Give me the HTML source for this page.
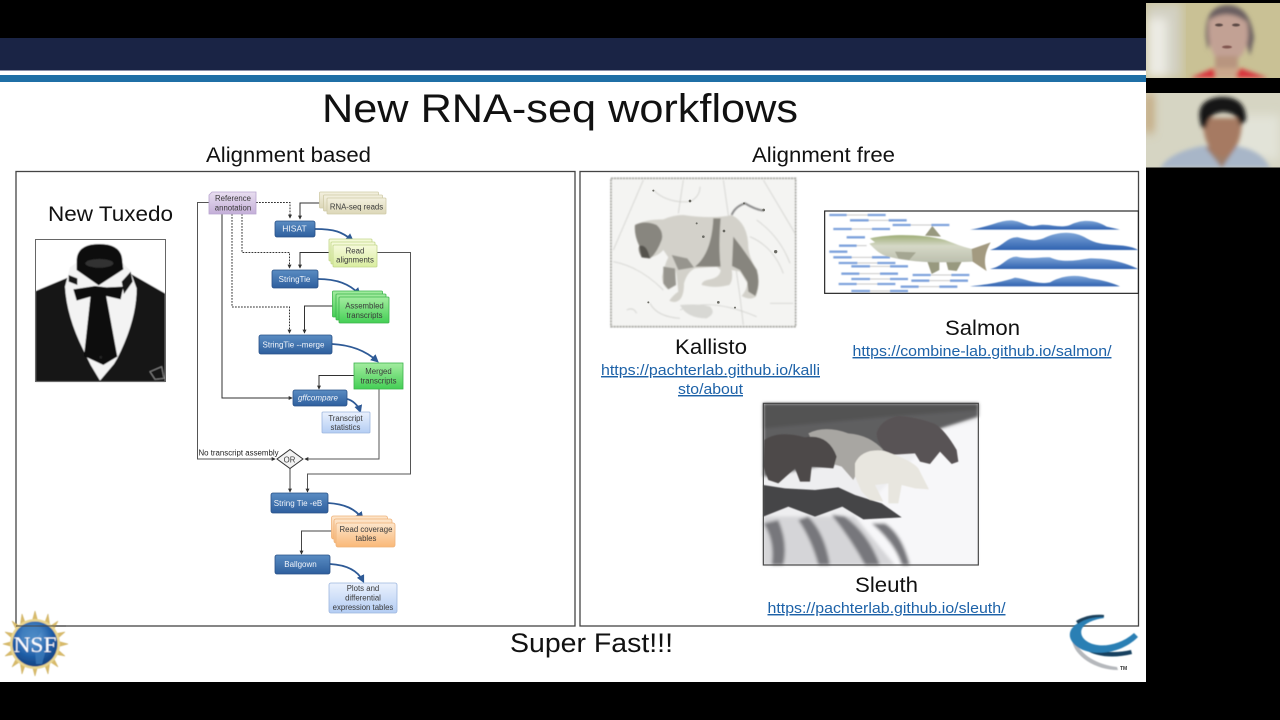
<!DOCTYPE html>
<html><head><meta charset="utf-8"><style>
html,body{margin:0;padding:0;background:#000;width:1280px;height:720px;overflow:hidden}
svg{display:block}
text{font-family:"Liberation Sans",sans-serif}
</style></head><body>
<svg width="1280" height="720" viewBox="0 0 1280 720" xmlns="http://www.w3.org/2000/svg">
<defs>
<filter id="b1"><feGaussianBlur stdDeviation="0.45"/></filter>
<filter id="b2"><feGaussianBlur stdDeviation="2"/></filter>
<filter id="b15"><feGaussianBlur stdDeviation="1.200"/></filter>
<filter id="b3"><feGaussianBlur stdDeviation="5"/></filter>
<filter id="b4"><feGaussianBlur stdDeviation="9"/></filter>
<filter id="b0"><feGaussianBlur stdDeviation="0.25"/></filter>
<linearGradient id="gb" x1="0" y1="0" x2="0" y2="1"><stop offset="0" stop-color="#5a8cc2"/><stop offset="1" stop-color="#2e5f9e"/></linearGradient>
<linearGradient id="gp" x1="0" y1="0" x2="0" y2="1"><stop offset="0" stop-color="#e8def0"/><stop offset="1" stop-color="#c4afd8"/></linearGradient>
<linearGradient id="gt" x1="0" y1="0" x2="0" y2="1"><stop offset="0" stop-color="#f3f0df"/><stop offset="1" stop-color="#dcd7b8"/></linearGradient>
<linearGradient id="gy" x1="0" y1="0" x2="0" y2="1"><stop offset="0" stop-color="#f6fadb"/><stop offset="1" stop-color="#d9eda0"/></linearGradient>
<linearGradient id="gg" x1="0" y1="0" x2="0" y2="1"><stop offset="0" stop-color="#a4ecA0"/><stop offset="1" stop-color="#44cf55"/></linearGradient>
<linearGradient id="go" x1="0" y1="0" x2="0" y2="1"><stop offset="0" stop-color="#fde6cc"/><stop offset="1" stop-color="#f9b878"/></linearGradient>
<linearGradient id="gl" x1="0" y1="0" x2="0" y2="1"><stop offset="0" stop-color="#eaf1fd"/><stop offset="1" stop-color="#b4cdf3"/></linearGradient>
<linearGradient id="gw" x1="0" y1="0" x2="0" y2="1"><stop offset="0" stop-color="#7fa6d8"/><stop offset="1" stop-color="#2f62b0"/></linearGradient>
<linearGradient id="gf" x1="0" y1="0" x2="0" y2="1"><stop offset="0" stop-color="#9fae78"/><stop offset=".4" stop-color="#d5d8c6"/><stop offset="1" stop-color="#bcbfae"/></linearGradient>
<radialGradient id="gn" cx=".45" cy=".35" r=".7"><stop offset="0" stop-color="#6fa8dc"/><stop offset=".6" stop-color="#1f5fa8"/><stop offset="1" stop-color="#123c78"/></radialGradient>
<marker id="ah" viewBox="0 0 6 6" refX="5" refY="3" markerWidth="4" markerHeight="4" orient="auto"><path d="M0 0L6 3L0 6z" fill="#333"/></marker>
<marker id="bh" viewBox="0 0 10 10" refX="7" refY="5" markerWidth="4.5" markerHeight="4.5" orient="auto"><path d="M0 0L10 5L0 10z" fill="#2e5a96"/></marker>
</defs>

<!-- slide -->
<rect x="0" y="38" width="1146" height="644" fill="#fff"/>
<rect x="0" y="38" width="1146" height="32" fill="#1a2445"/>
<rect x="0" y="70" width="1146" height="1" fill="#8a8fa8"/>
<rect x="0" y="75" width="1146" height="7" fill="#1f6fa6"/>

<text x="560" y="122" font-size="40" text-anchor="middle" fill="#111" textLength="476" lengthAdjust="spacingAndGlyphs">New RNA-seq workflows</text>
<text x="288.500" y="162" font-size="21" text-anchor="middle" fill="#111" textLength="165" lengthAdjust="spacingAndGlyphs">Alignment based</text>
<text x="823.500" y="162" font-size="21" text-anchor="middle" fill="#111" textLength="143" lengthAdjust="spacingAndGlyphs">Alignment free</text>

<rect x="16" y="171.500" width="559" height="454.500" fill="#fff" stroke="#444" stroke-width="1.300"/>
<rect x="580" y="171.500" width="558.500" height="454.500" fill="#fff" stroke="#444" stroke-width="1.300"/>

<text x="110.500" y="221" font-size="21" text-anchor="middle" fill="#111" textLength="125" lengthAdjust="spacingAndGlyphs">New Tuxedo</text>

<!-- tuxedo -->
<g transform="translate(20 230) scale(.33333)" filter="url(#b15)">
<rect x="47" y="28" width="388" height="427" fill="#fff"/>
<path d="M47 183L150 140L330 130L435 190L435 455L47 455z" fill="#131313"/>
<path d="M150 112L178 92L300 92L330 120L350 175Q350 270 292 385L282 402L240 452L212 405L190 360Q140 260 135 170z" fill="#f3f3f3"/>
<path d="M170 90Q172 42 238 42Q305 42 307 92L310 118L236 166L170 120z" fill="#101010"/>
<ellipse cx="238" cy="100" rx="42" ry="13" fill="#333"/>
<path d="M146 135L172 145L172 165L146 155zM305 155L332 125L338 155L312 192z" fill="#181818"/>
<path d="M160 178L225 168L260 172L310 170L302 208L250 196L225 196L170 212z" fill="#0c0c0c"/>
<path d="M212 195L258 195L292 380L250 405L192 378z" fill="#0d0d0d"/>
<rect x="238" y="378" width="8" height="8" fill="#222"/>
<path d="M390 425L425 410L432 445L405 448z" fill="none" stroke="#888" stroke-width="3"/>
</g>
<rect x="35.500" y="239.500" width="130" height="142" fill="none" stroke="#666" stroke-width="1"/>

<!-- connectors -->
<g filter="url(#b0)">
<g fill="none" stroke="#333" stroke-width="1">
<path d="M256 202.500H290V218" stroke-dasharray="1.800 1.200" marker-end="url(#ah)"/>
<path d="M242 214V252.500H289.500V268" stroke-dasharray="1.800 1.200" marker-end="url(#ah)"/>
<path d="M232 214V307H289.500V333" stroke-dasharray="1.800 1.200" marker-end="url(#ah)"/>
<path d="M327 203H300V219" marker-end="url(#ah)"/>
<path d="M333 252.500H300V268" marker-end="url(#ah)"/>
<path d="M339 306H304.500V333" marker-end="url(#ah)"/>
<path d="M354 375.500H319V389" marker-end="url(#ah)"/>
<path d="M222 214V398H292" marker-end="url(#ah)"/>
<path d="M209 202.500H197.500V459H275" stroke="#555" marker-end="url(#ah)"/>
<path d="M379 389V459H305" stroke="#555" marker-end="url(#ah)"/>
<path d="M377 252.500H410.500V474H307.500V492" stroke="#555" marker-end="url(#ah)"/>
<path d="M290 468V492" stroke="#444" marker-end="url(#ah)"/>
<path d="M336 531H301.500V554" stroke="#444" marker-end="url(#ah)"/>
</g>
<g fill="none" stroke="#2e5a96" stroke-width="1.800">
<path d="M315 229C335 229 342 232 352 240" marker-end="url(#bh)"/>
<path d="M318 279C337 279 350 284 359 294" marker-end="url(#bh)"/>
<path d="M332 344C352 345 366 351 377 361" marker-end="url(#bh)"/>
<path d="M347 399C352 400 358 405 360 411" marker-end="url(#bh)"/>
<path d="M328 503C345 504 355 509 362 518" marker-end="url(#bh)"/>
<path d="M330 564C347 565 358 571 363 581" marker-end="url(#bh)"/>
</g>

<!-- nodes -->
<g stroke-width=".8">
<path d="M212 192H256V214H209V195z" fill="url(#gp)" stroke="#b9a5cf"/>
<rect x="319.500" y="192" width="59" height="16" rx="1" fill="url(#gt)" stroke="#d0cba8"/>
<rect x="323.500" y="195" width="59" height="16" rx="1" fill="url(#gt)" stroke="#d0cba8"/>
<rect x="327" y="198" width="59" height="16" rx="1" fill="url(#gt)" stroke="#d0cba8"/>
<rect x="275" y="221" width="40" height="16" rx="2" fill="url(#gb)" stroke="#2a5288"/>
<rect x="329" y="239" width="43" height="22" rx="1" fill="url(#gy)" stroke="#c2d68a"/>
<rect x="331" y="242" width="44" height="22" rx="1" fill="url(#gy)" stroke="#c2d68a"/>
<rect x="333" y="245" width="44" height="22" rx="1" fill="url(#gy)" stroke="#c2d68a"/>
<rect x="272" y="270" width="46" height="18" rx="2" fill="url(#gb)" stroke="#2a5288"/>
<rect x="332.500" y="291" width="50" height="26" rx="1" fill="url(#gg)" stroke="#3cb44c"/>
<rect x="336" y="294" width="50" height="26" rx="1" fill="url(#gg)" stroke="#3cb44c"/>
<rect x="339" y="297" width="50" height="26" rx="1" fill="url(#gg)" stroke="#3cb44c"/>
<rect x="259" y="335" width="73" height="19" rx="2" fill="url(#gb)" stroke="#2a5288"/>
<rect x="354" y="363" width="49" height="26" fill="url(#gg)" stroke="#3cb44c"/>
<rect x="293" y="390" width="54" height="16" rx="2" fill="url(#gb)" stroke="#2a5288"/>
<rect x="322" y="412" width="48" height="21" rx="1" fill="url(#gl)" stroke="#9db6de"/>
<path d="M290 449.500L303 459L290 468.500L277 459z" fill="#f2f2f2" stroke="#333" stroke-width="1"/>
<rect x="271" y="493" width="57" height="20" rx="2" fill="url(#gb)" stroke="#2a5288"/>
<rect x="331.500" y="516" width="56" height="23" rx="2" fill="url(#go)" stroke="#eeb27a"/>
<rect x="334" y="519" width="58" height="24" rx="2" fill="url(#go)" stroke="#eeb27a"/>
<rect x="336" y="523" width="59" height="24" rx="2" fill="url(#go)" stroke="#eeb27a"/>
<rect x="275" y="555" width="55" height="19" rx="2" fill="url(#gb)" stroke="#2a5288"/>
<rect x="329" y="583" width="68" height="30" rx="2" fill="url(#gl)" stroke="#9db6de"/>
</g>

<!-- node labels -->
<g font-size="7.800" text-anchor="middle" fill="#3a3a3a">
<text x="233" y="201">Reference</text><text x="233" y="210.500">annotation</text>
<text x="356.500" y="209.500">RNA-seq reads</text>
<text x="355" y="253.500">Read</text><text x="355" y="262.500">alignments</text>
<text x="364.500" y="308.500">Assembled</text><text x="364.500" y="318">transcripts</text>
<text x="378.500" y="374">Merged</text><text x="378.500" y="383.500">transcripts</text>
<text x="345.500" y="421">Transcript</text><text x="345.500" y="430">statistics</text>
<text x="366" y="532">Read coverage</text><text x="366" y="541">tables</text>
<text x="363" y="591">Plots and</text><text x="363" y="600.500">differential</text><text x="363" y="610">expression tables</text>
<text x="289.500" y="462.500">OR</text>
<text x="238.500" y="455.500" textLength="80" lengthAdjust="spacingAndGlyphs" fill="#222">No transcript assembly</text>
</g>
<g font-size="8" text-anchor="middle" fill="#f0f4fa">
<text x="294.500" y="231.500" font-size="8.500">HISAT</text>
<text x="294.500" y="282">StringTie</text>
<text x="293.500" y="347.500">StringTie --merge</text>
<text x="318" y="400.500" font-style="italic">gffcompare</text>
<text x="298" y="506">String Tie -eB</text>
<text x="300.500" y="567">Ballgown</text>
</g>
</g>

<!-- Kallisto image -->
<g transform="translate(600 170) scale(.33333)">
<rect x="30" y="23" width="558" height="450" fill="#f4f4f2"/>
<g filter="url(#b2)">
<rect x="33" y="25" width="554" height="445" fill="none" stroke="#8c8c86" stroke-width="4" stroke-dasharray="6 3"/>
<g fill="none" stroke="#c8c8c4" stroke-width="2"><path d="M130 30L40 240M250 30L235 130M370 30L420 380L430 465M490 30L585 190M40 275Q120 290 190 360M150 400Q170 440 240 445M160 60Q200 100 270 95Q300 80 300 50M450 200Q520 230 550 310M470 150Q540 200 570 280M240 420Q330 380 470 440M510 400H580M80 420Q100 410 110 430"/></g>
<path d="M105 165Q135 148 190 148Q220 135 250 135Q340 148 395 135Q445 160 445 235Q450 270 472 300Q482 340 468 380Q450 392 425 378Q440 360 442 340Q430 320 420 305L395 300Q400 330 388 345Q345 356 305 345Q305 332 330 328Q360 322 362 300L350 290L285 295Q262 305 252 340Q252 375 240 388Q225 402 208 392Q220 375 235 365L228 300Q222 350 205 358Q188 350 186 320Q195 280 205 262L190 240Q165 268 125 262Q112 240 118 228Q102 195 105 165z" fill="#d3d1ca"/>
<path d="M105 165Q135 150 170 165Q192 185 185 210Q170 250 150 265L125 262Q112 240 118 228Q102 195 105 165z" fill="#88867f"/>
<path d="M118 228Q140 220 150 265L125 262z" fill="#55534e"/>
<path d="M285 290Q335 250 340 145L362 145Q355 230 362 290zM400 200Q440 250 470 300Q482 340 466 378L445 365L442 335L420 300L396 288z" fill="#87857e"/>
<path d="M190 290L225 295L228 345L205 358L190 340zM215 255L262 265L282 292L235 300z" fill="#97958e"/>
<path d="M395 135Q405 110 435 100Q465 118 490 122" fill="none" stroke="#888" stroke-width="6"/>
<path d="M240 405Q300 400 330 410Q350 430 320 445Q260 445 240 405z" fill="#d8d8d4"/>
</g>
<g fill="#6a6a64" filter="url(#b1)"><circle cx="270" cy="93" r="4"/><circle cx="310" cy="200" r="4"/><circle cx="372" cy="183" r="4"/><circle cx="527" cy="245" r="5"/><circle cx="290" cy="160" r="3"/><circle cx="432" cy="100" r="3"/><circle cx="491" cy="120" r="4"/><circle cx="145" cy="397" r="3"/><circle cx="355" cy="397" r="4"/><circle cx="405" cy="413" r="3"/><circle cx="160" cy="62" r="3"/></g>
</g>

<!-- Salmon image -->
<g transform="translate(820 205) scale(.33333)">
<rect x="14" y="18" width="941" height="247" fill="#fff" stroke="#222" stroke-width="3.500"/>
<g filter="url(#b15)">
<g stroke="#c9c9c9" stroke-width="3"><path d="M28 30H197M90 46H260M40 72H210M218 60H388M80 97H135M57 122H140M28 140H82M40 157H210M56 174H226M94 184H264M64 206H234M94 222H264M56 237H226M94 258H264M278 210H448M274 227H444M242 245H412"/></g>
<g stroke="#7ea3dc" stroke-width="7"><path d="M28 30H80M143 30H197M90 46H146M206 46H260M40 72H95M156 72H210M218 60H272M334 60H388M80 97H135M57 122H110M28 140H82M40 157H95M156 157H210M56 174H112M172 174H226M94 184H150M210 184H264M64 206H118M180 206H234M94 222H150M210 222H264M56 237H110M172 237H226M94 258H150M210 258H264M278 210H332M394 210H448M274 227H328M390 227H444M242 245H296M358 245H412"/></g>
<path d="M450 74C510 65 540 45 575 46C610 50 620 68 650 62C680 52 720 72 750 60C790 40 830 46 860 65L900 74z" fill="url(#gw)"/>
<path d="M510 135C550 125 560 95 595 97C630 105 640 110 670 100C710 80 760 75 800 100C850 130 910 110 955 135z" fill="url(#gw)"/>
<path d="M510 192C550 185 560 155 590 155C630 165 660 155 690 157C730 175 770 165 810 160C850 160 900 165 955 192z" fill="url(#gw)"/>
<path d="M450 244C510 238 550 230 585 218C620 222 650 240 690 232C730 210 770 208 810 220C850 225 880 235 900 244z" fill="url(#gw)"/>
<path d="M315 92L337 63L363 95zM322 170L358 170L358 195L335 207zM378 168L428 165L410 198L385 195zM225 140L288 142L268 165L235 160z" fill="#98997f"/>
<path d="M150 100C200 88 300 85 375 105C410 118 440 130 460 132C480 150 470 165 460 170C420 172 380 172 340 172C270 170 215 160 190 150C170 140 160 128 148 116L165 112z" fill="url(#gf)"/>
<path d="M455 132L512 112C495 140 490 170 500 198L458 170z" fill="#a39a80"/>
<path d="M225 140L288 142L268 165L235 160z" fill="#a4a692"/>
</g>
</g>

<!-- Bears image -->
<g transform="translate(755 400) scale(.33333)">
<rect x="25" y="10" width="645" height="485" fill="#eeeef0"/>
<g filter="url(#b3)">
<path d="M25 10H670V50L560 85L400 160L25 230z" fill="#5f5e60"/>
<path d="M25 10H670V30L400 50L25 85z" fill="#525252"/>
<path d="M560 90L670 60V495H420L300 350z" fill="#f7f7f9"/>
<path d="M25 350H300L420 495H25z" fill="#d5d5d8"/>
<path d="M25 370Q60 420 50 495H85Q100 430 70 360zM130 360Q170 420 190 495H225Q210 400 160 350zM230 345Q290 420 330 495H375Q340 400 270 350zM350 370Q420 430 440 495H465Q440 400 390 370z" fill="#77777b"/>
</g>
<g filter="url(#b15)">
<path d="M25 255L90 265L180 270L250 262L300 285L380 310L440 352L325 358L262 320L180 350L100 320L25 350z" fill="#454446"/>
<path d="M365 100Q375 60 430 48Q480 50 540 72Q570 90 605 150L610 185L590 192L555 155L525 192L495 185L480 160L400 165Q365 130 365 100z" fill="#595254"/>
<path d="M160 100Q210 75 280 100Q345 105 385 150L330 170L295 240L260 200L200 180z" fill="#a8a6a2"/>
<path d="M28 120Q70 90 150 112Q220 100 245 170L235 205L170 200L165 245L135 245L120 205L70 250L40 240L25 200z" fill="#4d4a49"/>
<path d="M300 190Q320 145 385 152Q470 180 490 205L522 268L480 265L440 255L430 310L400 310L400 250L360 255L385 305L345 300L320 275L300 230z" fill="#e8e6df"/>
</g>
<rect x="25" y="10" width="645" height="485" fill="none" stroke="#444" stroke-width="3.500"/>
</g>

<!-- right labels -->
<g text-anchor="middle" fill="#111">
<text x="711" y="354" font-size="21" textLength="72" lengthAdjust="spacingAndGlyphs">Kallisto</text>
<text x="982.500" y="335" font-size="21" textLength="75" lengthAdjust="spacingAndGlyphs">Salmon</text>
<text x="886.500" y="592" font-size="21" textLength="63" lengthAdjust="spacingAndGlyphs">Sleuth</text>
</g>
<g text-anchor="middle" fill="#1d62a8" font-size="14.500" text-decoration="underline">
<text x="710.500" y="375" textLength="219" lengthAdjust="spacingAndGlyphs">https://pachterlab.github.io/kalli</text>
<text x="710.500" y="394" textLength="65" lengthAdjust="spacingAndGlyphs">sto/about</text>
<text x="982" y="356" textLength="259" lengthAdjust="spacingAndGlyphs">https://combine-lab.github.io/salmon/</text>
<text x="886.500" y="613" textLength="238" lengthAdjust="spacingAndGlyphs">https://pachterlab.github.io/sleuth/</text>
</g>
<text x="591.500" y="652" font-size="27" text-anchor="middle" fill="#111" textLength="163" lengthAdjust="spacingAndGlyphs">Super Fast!!!</text>

<!-- NSF logo -->
<g filter="url(#b1)">
<g fill="#d9bb6a" stroke="#c8a850" stroke-width=".5">
<path d="M35 611L38 622H32zM35 676L38 665H32zM3 644L14 641V647zM68 644L57 641V647zM12 621L21 627L17 631zM58 621L49 627L53 631zM12 667L21 661L17 657zM58 667L49 661L53 657zM22 614L26 625L20 627zM48 614L44 625L50 627zM22 674L26 663L20 661zM48 674L44 663L50 661zM5 632L16 634L14 640zM65 632L54 634L56 640zM5 656L16 654L14 648zM65 656L54 654L56 648z"/>
</g>
<circle cx="35" cy="644" r="25" fill="#e8d590"/>
<circle cx="35" cy="644" r="22.500" fill="url(#gn)"/>
<path d="M22 628Q33 622 42 630L36 640L24 640zM35 650L46 650L42 664L36 664z" fill="#3f7fbd" opacity=".7"/>
<text x="35" y="652" font-size="22" text-anchor="middle" fill="#fff" textLength="43" lengthAdjust="spacingAndGlyphs" style="font-family:'Liberation Serif',serif">NSF</text>
</g>
<rect x="16" y="625.400" width="50" height="1.200" fill="#444" opacity=".75"/>

<!-- right logo -->
<g filter="url(#b1)">
<path d="M1072 640C1074 656 1095 670 1118 670L1117 667C1098 665 1080 655 1075 640z" fill="#b5b8bc"/>
<path d="M1075 634C1076 650 1100 662 1132 654L1131 650C1105 656 1086 648 1082 636z" fill="#123f5e"/>
<path d="M1103 616C1082 618 1068 626 1070 637C1075 656 1115 660 1138 637L1134 633C1115 650 1088 648 1082 636C1078 626 1090 620 1104 618z" fill="#2b7fb4"/>
<path d="M1076 621C1084 616 1094 614 1104 615L1104 617C1094 617 1084 619 1078 624z" fill="#1a3f5a"/>
</g>
<text x="1120" y="670" font-size="5" font-weight="bold" fill="#333">TM</text>

<!-- webcam 1 -->
<svg x="1146" y="3" width="134" height="75" viewBox="1146 3 134 75">
<rect x="1146" y="3" width="134" height="75" fill="#c9c195"/>
<g filter="url(#b3)">
<rect x="1146" y="3" width="36" height="75" fill="#d2d0c2"/>
<rect x="1147" y="18" width="20" height="60" fill="#ecebe4"/>
</g>
<g filter="url(#b2)">
<path d="M1190 78L1214 68L1216 78zM1234 78L1240 68L1268 78z" fill="#d8343d"/>
<path d="M1206 38Q1204 6 1227 5Q1250 5 1254 38L1250 56L1246 42L1210 42L1208 50z" fill="#6a5f60"/>
<path d="M1209 20Q1228 8 1247 22Q1251 44 1241 56Q1228 66 1216 58Q1206 44 1209 20z" fill="#c2a194"/>
<rect x="1215" y="56" width="23" height="14" fill="#b8957f"/>
<path d="M1214 68L1238 68L1236 78L1216 78z" fill="#cba78c"/>
</g>
<g fill="#5c4a45" filter="url(#b1)"><ellipse cx="1219" cy="25" rx="4" ry="1.500"/><ellipse cx="1236" cy="25" rx="4" ry="1.500"/><ellipse cx="1227" cy="47" rx="5" ry="1.500" fill="#80554f"/></g>
</svg>

<!-- webcam 2 -->
<svg x="1146" y="93" width="134" height="74.500" viewBox="1146 93 134 74.500">
<rect x="1146" y="93" width="134" height="75" fill="#d6d5c3"/>
<g filter="url(#b3)">
<rect x="1146" y="93" width="6" height="40" fill="#b88d52"/>
<rect x="1235" y="115" width="45" height="45" fill="#e2e3d8"/>
</g>
<g filter="url(#b2)">
<path d="M1160 168Q1170 152 1202 146L1236 146Q1262 150 1270 168z" fill="#a8b6c8"/>
<path d="M1205 147L1222 168L1236 147z" fill="#9c7f6c"/>
<path d="M1202 118H1242Q1242 150 1224 158Q1205 156 1202 118z" fill="#a67a62"/>
<path d="M1202 128Q1192 100 1220 97Q1246 96 1246 120L1240 126Q1238 112 1222 112Q1208 114 1206 128z" fill="#181516"/>
</g>
</svg>
</svg>
</body></html>
